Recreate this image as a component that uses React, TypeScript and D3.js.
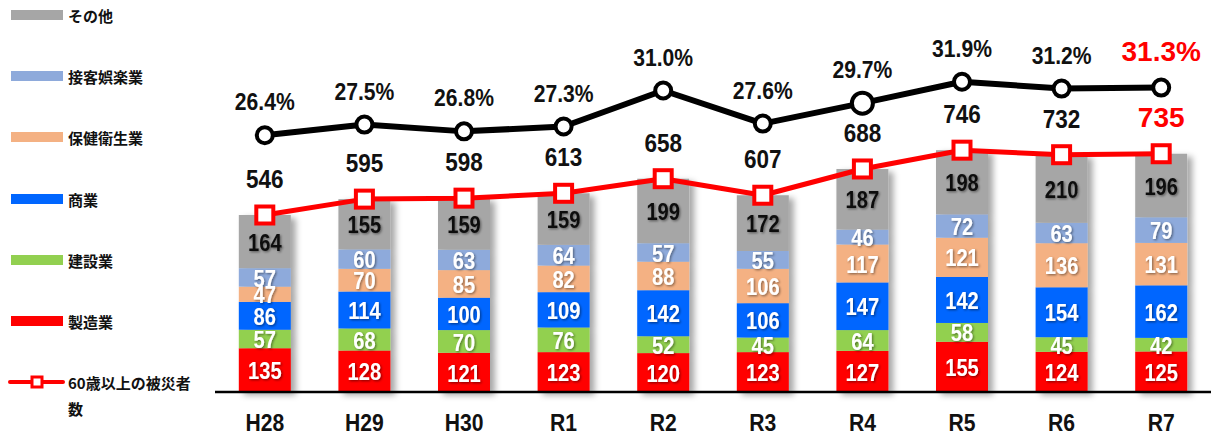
import React from "react";
import * as d3 from "d3";

const categories = ["H28", "H29", "H30", "R1", "R2", "R3", "R4", "R5", "R6", "R7"];
const manufacturing = [135, 128, 121, 123, 120, 123, 127, 155, 124, 125];
const construction = [57, 68, 70, 76, 52, 45, 64, 58, 45, 42];
const commerce = [86, 114, 100, 109, 142, 106, 147, 142, 154, 162];
const health = [47, 70, 85, 82, 88, 106, 117, 121, 136, 131];
const hospitality = [57, 60, 63, 64, 57, 55, 46, 72, 63, 79];
const other = [164, 155, 159, 159, 199, 172, 187, 198, 210, 196];
const totals60 = [546, 595, 598, 613, 658, 607, 688, 746, 732, 735];
const percent60 = [26.4, 27.5, 26.8, 27.3, 31.0, 27.6, 29.7, 31.9, 31.2, 31.3];

const seriesNames = ["製造業", "建設業", "商業", "保健衛生業", "接客娯楽業", "その他"];
const seriesColors = ["#ff0000", "#92d050", "#0066ff", "#f4b183", "#8eaadb", "#a6a6a6"];
const seriesValues = [manufacturing, construction, commerce, health, hospitality, other];
const lineLabel = ["60歳以上の被災者", "数"];

const W = 1211;
const H = 435;
const NUM_FONT = "'Liberation Sans', Arial, sans-serif";
const JP_FONT = "'Noto Sans CJK JP', 'Noto Sans', sans-serif";

function SText(props: any) {
  const { x, y, sx = 1, children, ...rest } = props;
  return (
    <text transform={`translate(${x},${y}) scale(${sx},1)`} x={0} y={0} {...rest}>
      {children}
    </text>
  );
}

export default function App() {
  const x = d3
    .scaleBand<string>()
    .domain(categories)
    .range([215, 1211])
    .paddingInner(0.478)
    .paddingOuter(0.239);
  const y = d3.scaleLinear().domain([0, 1200]).range([392, 3]);
  const y2 = d3.scaleLinear().domain([0, 40]).range([392, 3]);
  const bw = x.bandwidth();
  const cx = (c: string) => (x(c) as number) + bw / 2;

  const table = categories.map((c, i) => {
    const row: any = { cat: c };
    seriesNames.forEach((s, k) => (row[s] = seriesValues[k][i]));
    return row;
  });
  const stack = d3.stack<any>().keys(seriesNames)(table);

  const redLine = d3
    .line<number>()
    .x((_, i) => cx(categories[i]))
    .y((d) => y(d));
  const blackLine = d3
    .line<number>()
    .x((_, i) => cx(categories[i]))
    .y((d) => y2(d));

  const legendY = [15, 76, 137, 199, 260, 321];
  const legendOrder = [5, 4, 3, 2, 1, 0];
  const last = categories.length - 1;

  return (
    <svg
      width={W}
      height={H}
      style={{ position: "absolute", left: 0, top: 0, background: "#fff" }}
    >
      <defs>
        <filter id="barShadow" x="-20%" y="-10%" width="150%" height="130%">
          <feDropShadow dx="5" dy="3" stdDeviation="3" floodColor="#000" floodOpacity="0.35" />
        </filter>
        <filter id="txtShadow" x="-20%" y="-20%" width="150%" height="150%">
          <feDropShadow dx="1.2" dy="1.2" stdDeviation="0.8" floodColor="#000" floodOpacity="0.45" />
        </filter>
      </defs>

      {/* Legend */}
      {legendOrder.map((k, j) => (
        <g key={seriesNames[k]}>
          <rect x={11} y={legendY[j] - 5} width={52} height={10} fill={seriesColors[k]} />
          <text
            x={68}
            y={legendY[j]}
            dominantBaseline="central"
            fontFamily={JP_FONT}
            fontWeight="bold"
            fontSize={15}
            fill="#111"
          >
            {seriesNames[k]}
          </text>
        </g>
      ))}
      <g>
        <line x1={10} x2={63} y1={382} y2={382} stroke="#ff0000" strokeWidth={4} strokeLinecap="round" />
        <rect x={32} y={377} width={10} height={10} fill="#fff" stroke="#ff0000" strokeWidth={3} />
        <text x={68} y={382} dominantBaseline="central" fontFamily={JP_FONT} fontWeight="bold" fontSize={15} fill="#111">
          {lineLabel[0]}
        </text>
        <text x={68} y={408} dominantBaseline="central" fontFamily={JP_FONT} fontWeight="bold" fontSize={15} fill="#111">
          {lineLabel[1]}
        </text>
      </g>

      {/* Bars */}
      {categories.map((c, i) => (
        <g key={c} filter="url(#barShadow)">
          {stack.map((layer, k) => (
            <rect
              key={k}
              x={x(c)}
              y={y(layer[i][1])}
              width={bw}
              height={y(layer[i][0]) - y(layer[i][1])}
              fill={seriesColors[k]}
            />
          ))}
        </g>
      ))}
      {categories.map((c, i) => (
        <g key={c + "lbl"} filter="url(#txtShadow)">
          {stack.map((layer, k) => (
            <SText
              key={k}
              x={cx(c)}
              y={(y(layer[i][0]) + y(layer[i][1])) / 2 + 1}
              sx={0.84}
              textAnchor="middle"
              dominantBaseline="central"
              fontFamily={NUM_FONT}
              fontWeight="bold"
              fontSize={24}
              fill={k === 5 ? "#111" : "#fff"}
            >
              {seriesValues[k][i]}
            </SText>
          ))}
        </g>
      ))}

      {/* Axis baseline */}
      <line x1={215} x2={1211} y1={392} y2={392} stroke="#000" strokeWidth={2.5} />
      {categories.map((c) => (
        <SText
          key={c + "ax"}
          x={cx(c)}
          y={431}
          sx={0.88}
          textAnchor="middle"
          fontFamily={NUM_FONT}
          fontWeight="bold"
          fontSize={24}
          fill="#111"
        >
          {c}
        </SText>
      ))}

      {/* Black percent line */}
      <path d={blackLine(percent60) as string} fill="none" stroke="#000" strokeWidth={6} strokeLinejoin="round" />
      {percent60.map((p, i) => (
        <circle
          key={"c" + i}
          cx={cx(categories[i])}
          cy={y2(p)}
          r={i === 6 ? 10.5 : 8}
          fill="#fff"
          stroke="#000"
          strokeWidth={4}
        />
      ))}
      {percent60.map((p, i) => (
        <SText
          key={"pl" + i}
          x={cx(categories[i])}
          y={y2(p) - (i === last ? 27 : 25)}
          sx={i === last ? 1 : 0.88}
          textAnchor="middle"
          fontFamily={NUM_FONT}
          fontWeight="bold"
          fontSize={i === last ? 28 : 24}
          fill={i === last ? "#ff0000" : "#111"}
        >
          {p.toFixed(1) + "%"}
        </SText>
      ))}

      {/* Red total line */}
      <path d={redLine(totals60) as string} fill="none" stroke="#ff0000" strokeWidth={5} strokeLinejoin="round" />
      {totals60.map((t, i) => (
        <rect
          key={"s" + i}
          x={cx(categories[i]) - 8.5}
          y={y(t) - 8.5}
          width={17}
          height={17}
          fill="#fff"
          stroke="#ff0000"
          strokeWidth={4}
        />
      ))}
      {totals60.map((t, i) => (
        <SText
          key={"tl" + i}
          x={cx(categories[i])}
          y={y(t) - 27}
          sx={i === last ? 1 : 0.9}
          textAnchor="middle"
          fontFamily={NUM_FONT}
          fontWeight="bold"
          fontSize={i === last ? 28 : 25}
          fill={i === last ? "#ff0000" : "#111"}
        >
          {t}
        </SText>
      ))}
    </svg>
  );
}
